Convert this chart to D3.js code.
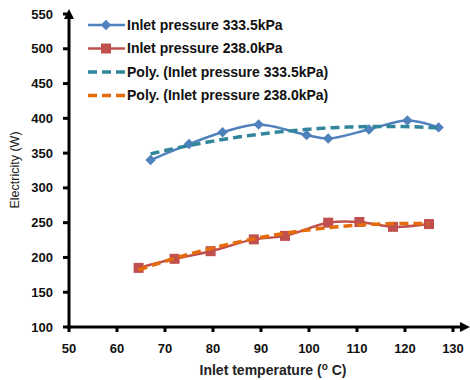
<!DOCTYPE html>
<html>
<head>
<meta charset="utf-8">
<script src="https://cdn.jsdelivr.net/npm/d3@7"></script>
<style>
  body { margin: 0; background: #fff; }
  text { font-family: "Liberation Sans", Arial, sans-serif; }
</style>
</head>
<body>
<svg id="chart" width="470" height="380"></svg>
<script>
// values
var temp333 = [67, 75, 82, 89.5, 99.5, 104, 112.5, 120.5, 127];
var elec333 = [340, 363, 380, 391, 376, 371, 384, 397, 387];
var temp238 = [64.5, 72, 79.5, 88.5, 95, 104, 110.5, 117.5, 125];
var elec238 = [185, 198, 209, 226, 231, 250, 251, 244, 248];
var xTicks = [50, 60, 70, 80, 90, 100, 110, 120, 130];
var yTicks = [100, 150, 200, 250, 300, 350, 400, 450, 500, 550];
var legendLabels = ["Inlet pressure 333.5kPa", "Inlet pressure 238.0kPa",
    "Poly. (Inlet pressure 333.5kPa)", "Poly. (Inlet pressure 238.0kPa)"];

var blue = "#4f81bd", red = "#c0504d", teal = "#31869b", orange = "#e46c0a";

var svg = d3.select("#chart");
var x = d3.scaleLinear().domain([50, 130]).range([69, 453]);
var y = d3.scaleLinear().domain([100, 550]).range([327, 14]);

// 2nd order least squares trendline (like Excel "Poly.")
function polyFit(xs, ys) {
    var s = [0, 0, 0, 0, 0], t = [0, 0, 0];
    xs.forEach(function (xv, i) {
        for (var k = 0; k < 5; k++) s[k] += Math.pow(xv, k);
        for (var k = 0; k < 3; k++) t[k] += ys[i] * Math.pow(xv, k);
    });
    var A = [[s[0], s[1], s[2], t[0]], [s[1], s[2], s[3], t[1]], [s[2], s[3], s[4], t[2]]];
    for (var i = 0; i < 3; i++) {
        for (var j = i + 1; j < 3; j++) {
            var f = A[j][i] / A[i][i];
            for (var k = i; k < 4; k++) A[j][k] -= f * A[i][k];
        }
    }
    var c = [0, 0, 0];
    for (var i = 2; i >= 0; i--) {
        var v = A[i][3];
        for (var k = i + 1; k < 3; k++) v -= A[i][k] * c[k];
        c[i] = v / A[i][i];
    }
    return function (xv) { return c[0] + c[1] * xv + c[2] * xv * xv; };
}

function trendPoints(xs, ys) {
    var f = polyFit(xs, ys), lo = d3.min(xs), hi = d3.max(xs), pts = [];
    for (var i = 0; i <= 60; i++) {
        var xv = lo + (hi - lo) * i / 60;
        pts.push([xv, f(xv)]);
    }
    return pts;
}

var line = d3.line().x(function (d) { return x(d[0]); }).y(function (d) { return y(d[1]); });
var smooth = d3.line().curve(d3.curveCatmullRom.alpha(0.5))
    .x(function (d) { return x(d[0]); }).y(function (d) { return y(d[1]); });

var d333 = temp333.map(function (t, i) { return [t, elec333[i]]; });
var d238 = temp238.map(function (t, i) { return [t, elec238[i]]; });

// axes
var xAxis = svg.append("g").attr("transform", "translate(0,327)");
xAxis.append("line").attr("x1", 67).attr("x2", 462).attr("stroke", "#000").attr("stroke-width", 3);
xAxis.append("path").attr("d", "M470,0L460,-5L460,5Z").attr("fill", "#000");
xAxis.selectAll(".tick").data(xTicks).enter().append("line")
    .attr("x1", function (d) { return x(d); }).attr("x2", function (d) { return x(d); })
    .attr("y1", 0).attr("y2", 5).attr("stroke", "#000").attr("stroke-width", 3);
xAxis.selectAll(".lbl").data(xTicks).enter().append("text")
    .attr("x", function (d) { return x(d); }).attr("y", 26)
    .attr("text-anchor", "middle").attr("font-size", 13).attr("font-weight", "bold")
    .attr("fill", "#111").text(function (d) { return d; });

var yAxis = svg.append("g").attr("transform", "translate(69,0)");
yAxis.append("line").attr("y1", 329).attr("y2", 18).attr("stroke", "#000").attr("stroke-width", 3);
yAxis.append("path").attr("d", "M0,9L-5,19L5,19Z").attr("fill", "#000");
yAxis.selectAll(".tick").data(yTicks).enter().append("line")
    .attr("y1", function (d) { return y(d); }).attr("y2", function (d) { return y(d); })
    .attr("x1", -6).attr("x2", 0).attr("stroke", "#000").attr("stroke-width", 3);
yAxis.selectAll(".lbl").data(yTicks).enter().append("text")
    .attr("x", -16).attr("y", function (d) { return y(d); }).attr("dy", "0.35em")
    .attr("text-anchor", "end").attr("font-size", 13).attr("font-weight", "bold")
    .attr("fill", "#111").text(function (d) { return d; });

// titles
var xt = svg.append("text").attr("x", 273).attr("y", 375).attr("text-anchor", "middle")
    .attr("font-size", 14).attr("font-weight", "bold").attr("fill", "#222");
xt.append("tspan").text("Inlet temperature (");
xt.append("tspan").attr("font-size", 10).attr("dy", -5).text("o");
xt.append("tspan").attr("dy", 5).text(" C)");

svg.append("text").attr("transform", "translate(19,170)rotate(-90)")
    .attr("text-anchor", "middle").attr("font-size", 12.5).attr("fill", "#222")
    .text("Electricity (W)");

// series lines
svg.append("path").attr("d", smooth(d238)).attr("fill", "none")
    .attr("stroke", red).attr("stroke-width", 2.5);
svg.append("path").attr("d", smooth(d333)).attr("fill", "none")
    .attr("stroke", blue).attr("stroke-width", 2.5);

// markers
svg.selectAll(".sq").data(d238).enter().append("rect")
    .attr("x", function (d) { return x(d[0]) - 5; }).attr("y", function (d) { return y(d[1]) - 5; })
    .attr("width", 10).attr("height", 10).attr("fill", red);
var diamond = d3.symbol().type(d3.symbolDiamond2).size(70);
svg.selectAll(".dm").data(d333).enter().append("path")
    .attr("transform", function (d) { return "translate(" + x(d[0]) + "," + y(d[1]) + ")"; })
    .attr("d", diamond).attr("fill", blue);

// trendlines
svg.append("path").attr("d", line(trendPoints(temp238, elec238))).attr("fill", "none")
    .attr("stroke", orange).attr("stroke-width", 3.5).attr("stroke-dasharray", "9,5");
svg.append("path").attr("d", line(trendPoints(temp333, elec333))).attr("fill", "none")
    .attr("stroke", teal).attr("stroke-width", 3.5).attr("stroke-dasharray", "9,5");

// legend
var legend = svg.append("g").selectAll("g").data(legendLabels).enter().append("g")
    .attr("transform", function (d, i) { return "translate(88," + (25 + i * 23.5) + ")"; });
legend.append("line").attr("x1", 0).attr("x2", 37)
    .attr("stroke", function (d, i) { return [blue, red, teal, orange][i]; })
    .attr("stroke-width", function (d, i) { return i < 2 ? 2.5 : 3.5; })
    .attr("stroke-dasharray", function (d, i) { return i < 2 ? null : "9,5"; });
legend.filter(function (d, i) { return i == 0; }).append("path")
    .attr("transform", "translate(18,0)").attr("d", diamond).attr("fill", blue);
legend.filter(function (d, i) { return i == 1; }).append("rect")
    .attr("x", 13).attr("y", -5).attr("width", 10).attr("height", 10).attr("fill", red);
legend.append("text").attr("x", 39).attr("dy", "0.35em")
    .attr("font-size", 14).attr("font-weight", "bold").attr("fill", "#111")
    .text(function (d) { return d; });
</script>
</body>
</html>
